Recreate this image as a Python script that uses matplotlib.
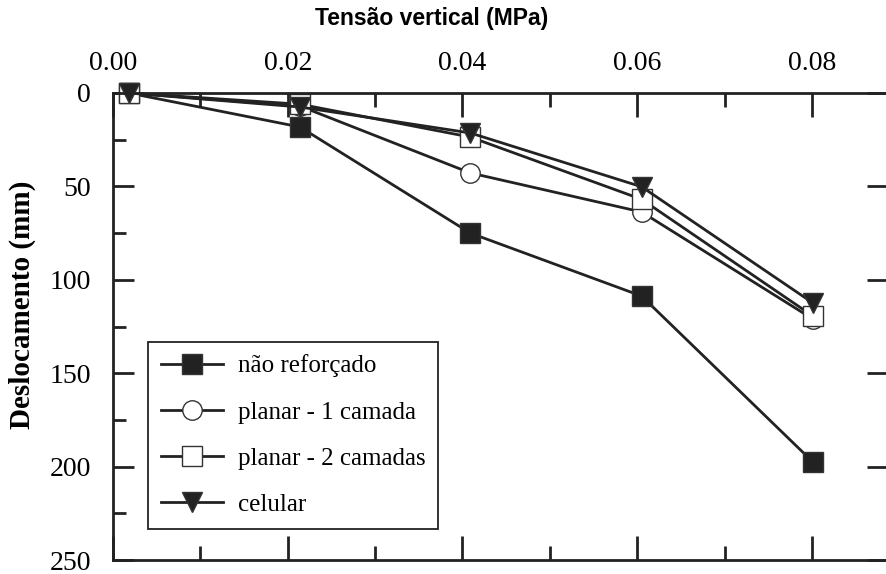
import matplotlib.pyplot as plt
from matplotlib.ticker import MultipleLocator

plt.rcParams.update({'font.family': 'Liberation Serif'})

tensao = [0.0018, 0.0214, 0.0409, 0.0605, 0.0801]
nao_reforcado = [0, 18.2, 75, 108.7, 197.5]
planar_1 = [0, 7, 42.8, 63.7, 121]
planar_2 = [0, 6, 23.6, 56.9, 119.4]
celular = [0, 7.5, 21.4, 50.2, 112.4]

names = ['não reforçado', 'planar - 1 camada', 'planar - 2 camadas', 'celular']
markers = ['s', 'o', 's', 'v']
faces = ['#222222', 'white', 'white', '#222222']

fig = plt.figure(figsize=(8.87, 5.74), dpi=100)
ax = fig.add_axes([113 / 887, 1 - 560 / 574, 775 / 887, 467 / 574])

for serie, nome, mk, fc in zip([nao_reforcado, planar_1, planar_2, celular], names, markers, faces):
    ax.plot(tensao, serie, color='#222222', lw=2.0, marker=mk, markersize=14,
            markerfacecolor=fc, markeredgecolor='#333333', markeredgewidth=1.0,
            label=nome, clip_on=False)

ax.set_xlim(0, 0.0887)
ax.set_ylim(250, 0)
ax.xaxis.set_major_locator(MultipleLocator(0.02))
ax.xaxis.set_minor_locator(MultipleLocator(0.01))
ax.yaxis.set_major_locator(MultipleLocator(50))
ax.yaxis.set_minor_locator(MultipleLocator(25))
ax.xaxis.set_major_formatter(lambda v, p: f'{v:.2f}')

ax.tick_params(axis='x', which='both', direction='in', top=True, bottom=True,
               labeltop=True, labelbottom=False, width=2, color='#222222',
               labelsize=20, pad=12)
ax.tick_params(axis='x', which='major', length=17)
ax.tick_params(axis='x', which='minor', length=10)
ax.tick_params(axis='y', which='both', direction='in', left=True, right=True,
               width=2, color='#222222', labelsize=20, pad=16)
ax.tick_params(axis='y', which='major', length=15)
ax.tick_params(axis='y', which='minor', length=9, right=False)

for s in ['top', 'bottom', 'left']:
    ax.spines[s].set_linewidth(2)
    ax.spines[s].set_color('#222222')
ax.spines['right'].set_visible(False)

fig.text(432 / 887, 1 - 18 / 574, 'Tensão vertical (MPa)', ha='center', va='center',
         fontsize=16.5, fontweight='bold', family='Liberation Sans')
fig.text(22 / 887, 1 - 305 / 574, 'Deslocamento (mm)', ha='center', va='center',
         rotation=90, fontsize=21, fontweight='bold')

leg = ax.legend(loc='upper left', bbox_to_anchor=(0.0452, 0.4668), borderaxespad=0,
                fontsize=18, handlelength=2.5, handletextpad=0.6, labelspacing=0.95,
                borderpad=0.5, fancybox=False, framealpha=1, edgecolor='#222222')
leg.get_frame().set_linewidth(1.3)

fig.savefig('out.png', dpi=100)
